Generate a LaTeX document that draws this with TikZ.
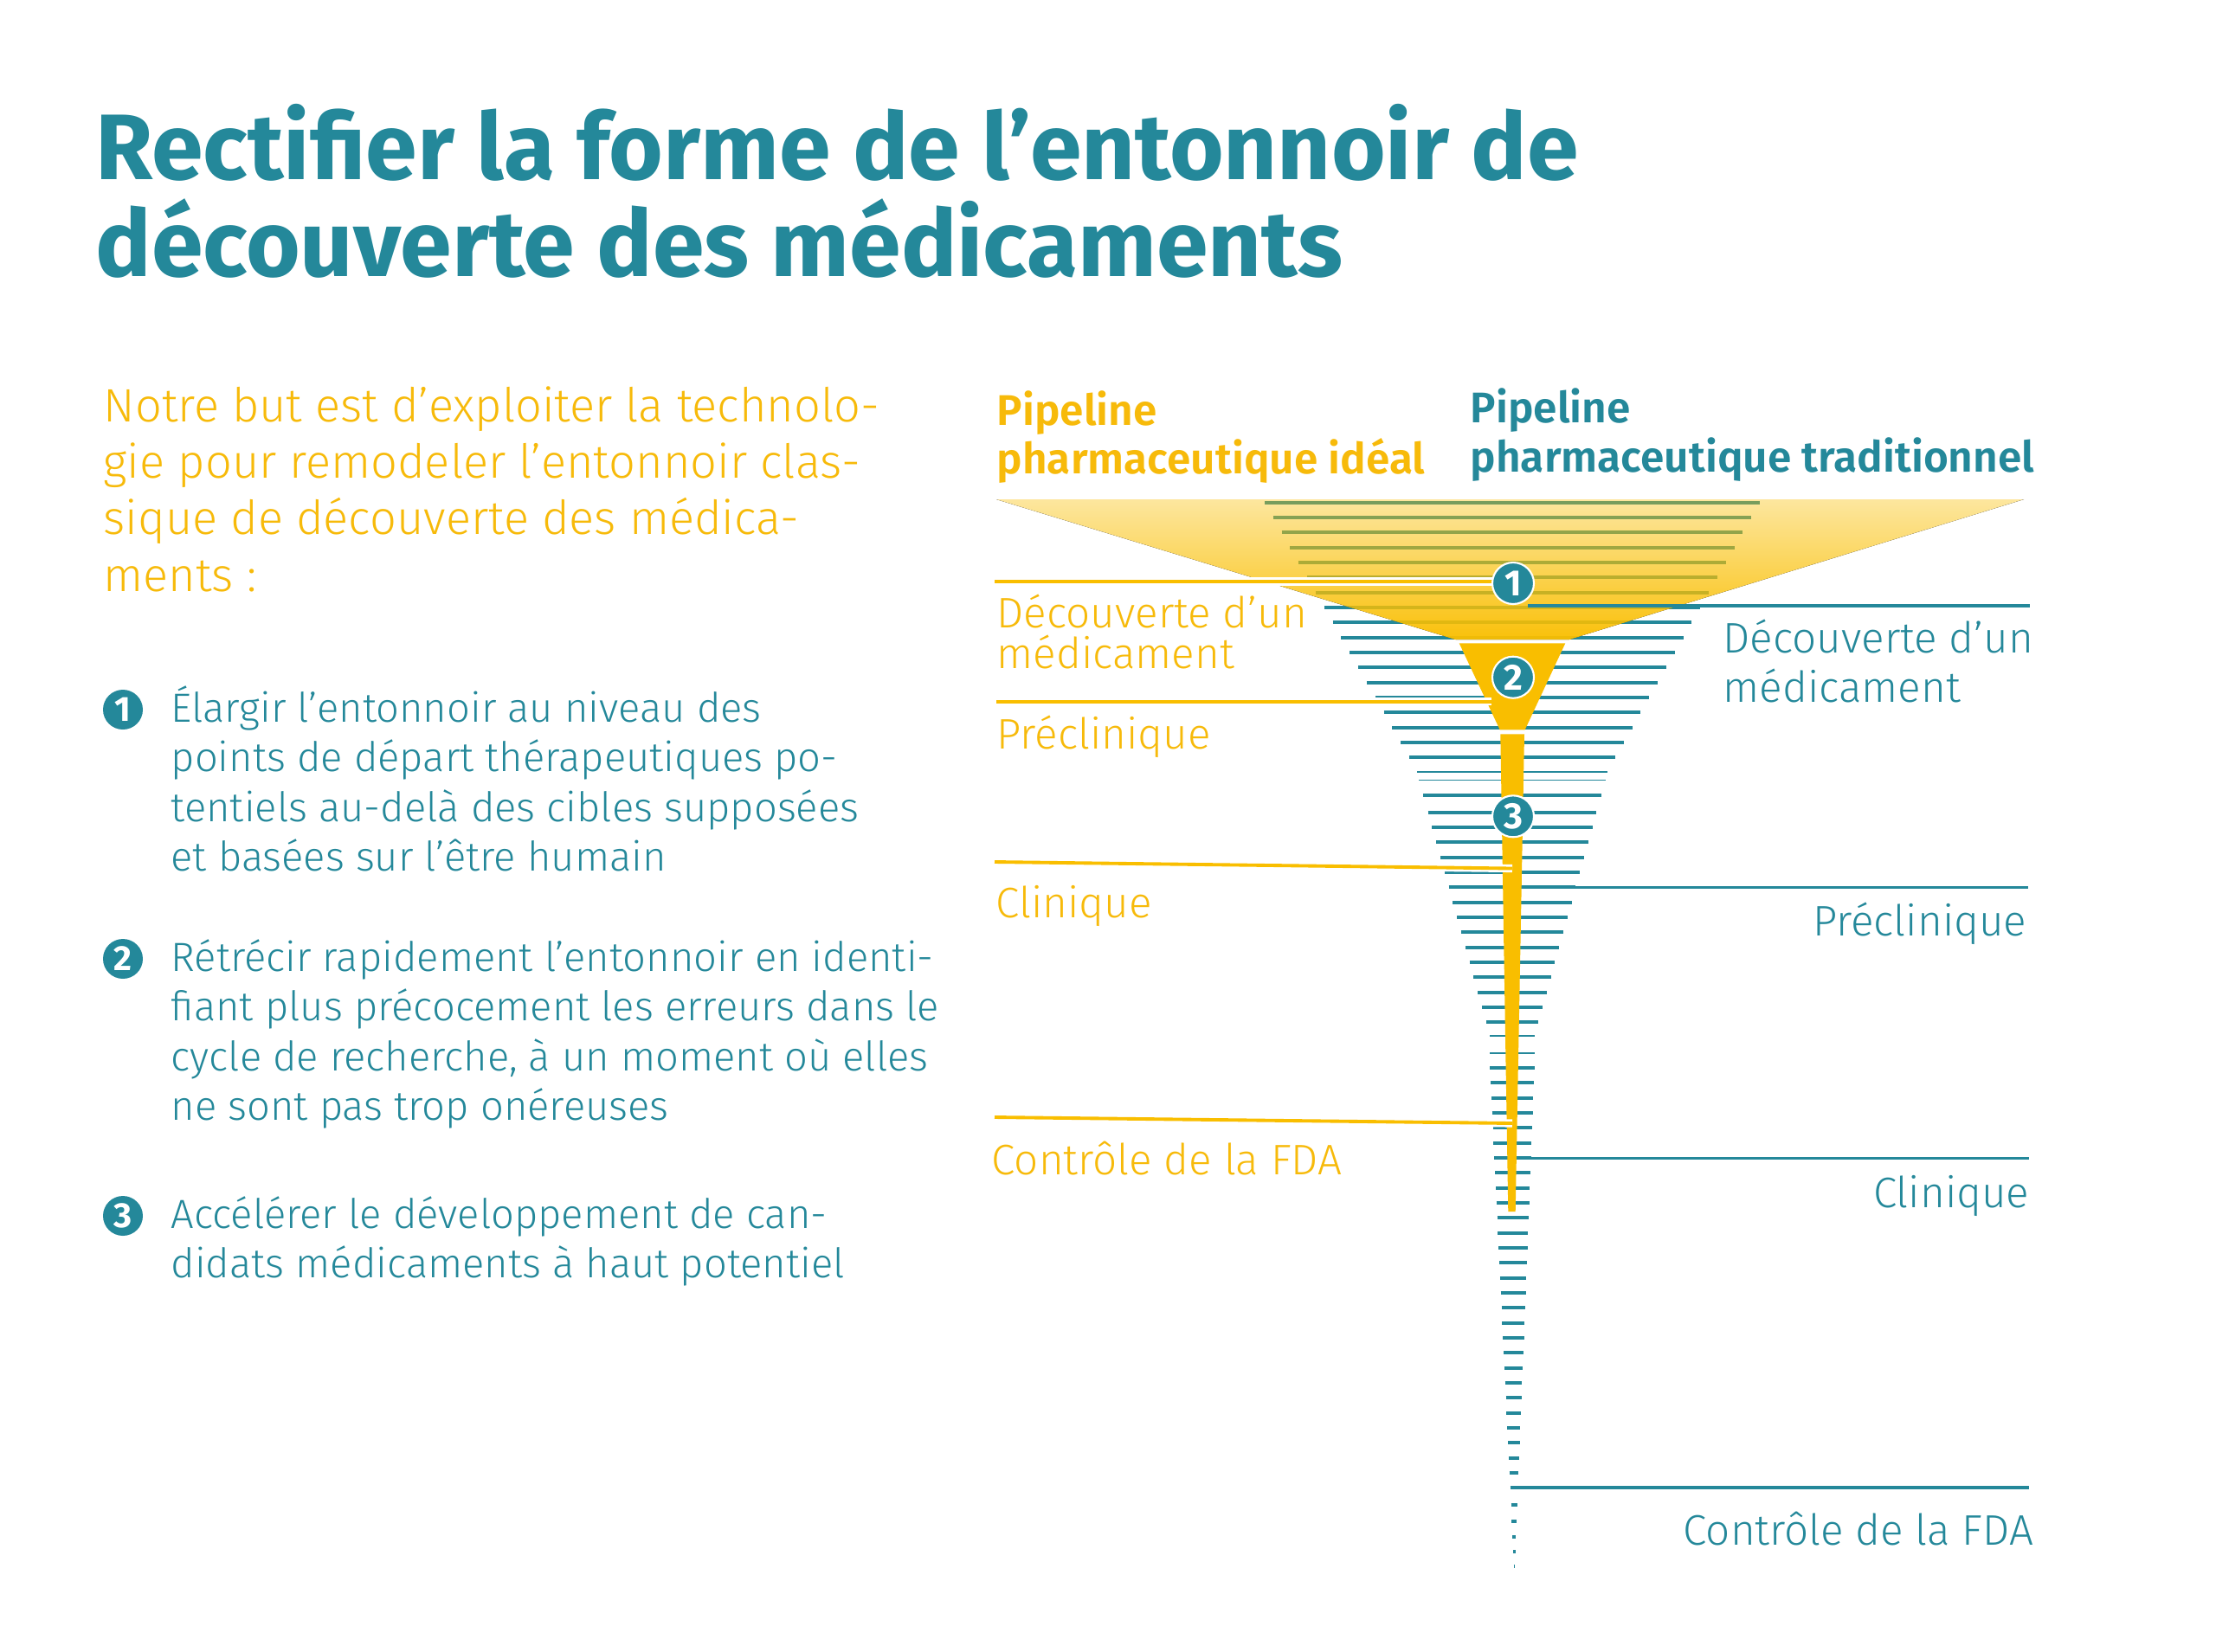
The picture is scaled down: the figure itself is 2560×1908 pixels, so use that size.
\documentclass[tikz,border=0pt]{standalone}
\usepackage{fontspec}
\setmainfont{Fira Sans}[UprightFont={* Light}, BoldFont={* Bold}]
\newfontfamily\semib{Fira Sans}[UprightFont={* SemiBold}]
\definecolor{tealc}{HTML}{24889A}
\definecolor{ycol}{HTML}{F9BE00}
\definecolor{ytext}{HTML}{F7BA0A}
\tikzset{
  tline/.style={line width=1.15pt, draw=tealc},
  thinl/.style={line width=0.45pt, draw=tealc},
  yline/.style={line width=1.1pt, draw=ycol},
  ycase/.style={line width=2.6pt, draw=white},
  rline/.style={line width=1.0pt, draw=tealc},
  title/.style={inner sep=0pt, anchor=base west, text=tealc, font=\fontsize{30.6}{36}\selectfont\bfseries},
  intro/.style={inner sep=0pt, anchor=base west, text=ytext, font=\fontsize{15.4}{19}\selectfont},
  item/.style={inner sep=0pt, anchor=base west, text=tealc, font=\fontsize{13.4}{16}\selectfont},
  ylbl/.style={inner sep=0pt, text=ytext, font=\fontsize{14.05}{16}\selectfont},
  tlbl/.style={inner sep=0pt, text=tealc, font=\fontsize{14.05}{16}\selectfont},
  hdr/.style={inner sep=0pt, anchor=base west, font=\fontsize{14.1}{16}\selectfont\semib},
  numc/.style={circle, fill=tealc, draw=white, line width=0.6pt, minimum size=4.8mm, inner sep=0pt, text=white, font=\fontsize{12}{12}\selectfont\bfseries},
  listc/.style={circle, fill=tealc, minimum size=4.6mm, inner sep=0pt, text=white, font=\fontsize{11.5}{12}\selectfont\bfseries}
}
\begin{document}
\begin{tikzpicture}[x=0.1mm, y=-0.1mm]
\fill[white] (0,0) rectangle (2560,1908);
\useasboundingbox (0,0) rectangle (2560,1908);

% ---------- title ----------
\node[title] (t1) at (110,207) {Rectifier la forme de l’entonnoir de};
\node[title] (t2) at (110,319.5) {découverte des médicaments};

% ---------- intro ----------
\node[intro] (in1) at (119,487) {Notre but est d’exploiter la technolo-};
\node[intro] (in2) at (119,552.3) {gie pour remodeler l’entonnoir clas-};
\node[intro] (in3) at (119,617.6) {sique de découverte des médica-};
\node[intro] (in4) at (119,683) {ments :};

% ---------- list ----------
\node[listc] (l1) at (142,820) {1};
\node[item] (i1a) at (197,834) {Élargir l’entonnoir au niveau des};
\node[item] (i1b) at (197,891.6) {points de départ thérapeutiques po-};
\node[item] (i1c) at (197,949.2) {tentiels au-delà des cibles supposées};
\node[item] (i1d) at (197,1006.8) {et basées sur l’être humain};
\node[listc] (l2) at (142,1108) {2};
\node[item] (i2a) at (197,1122) {Rétrécir rapidement l’entonnoir en identi-};
\node[item] (i2b) at (197,1179.6) {fiant plus précocement les erreurs dans le};
\node[item] (i2c) at (197,1237.2) {cycle de recherche, à un moment où elles};
\node[item] (i2d) at (197,1294.8) {ne sont pas trop onéreuses};
\node[listc] (l3) at (142,1405) {3};
\node[item] (i3a) at (197,1419) {Accélérer le développement de can-};
\node[item] (i3b) at (197,1476.6) {didats médicaments à haut potentiel};

% ---------- headers ----------
\node[hdr, text=ytext] (h1a) at (1151,491) {Pipeline};
\node[hdr, text=ytext] (h1b) at (1151,547) {pharmaceutique idéal};
\node[hdr, text=tealc] (h2a) at (1698,488) {Pipeline};
\node[hdr, text=tealc] (h2b) at (1698,545) {pharmaceutique traditionnel};

% ---------- traditional funnel lines ----------
\foreach \k in {0,...,17} {
  \pgfmathsetmacro\yy{580.7+17.33*\k}
  \pgfmathsetmacro\hh{286-0.567*(\yy-580.7)}
  \draw[tline] ({1747-\hh},\yy) -- ({1747+\hh},\yy);
}
\draw[thinl] (1637.3,892) -- (1856.7,892);
\draw[thinl] (1639,901.3) -- (1855,901.3);
\foreach \yy in {919.3,938.7,956.03,973.36,990.69,1008.02,1025.35,1042.68,1060.01,1077.34,1094.67,1112,1129.33,1146.66,1163.99,1181.32} {
  \pgfmathsetmacro\hh{102.8-0.277*(\yy-919.3)}
  \draw[tline] ({1747-\hh},\yy) -- ({1747+\hh},\yy);
}
\draw[thinl] (1721,1197) -- (1773,1197);
\draw[thinl] (1721,1217) -- (1773,1217);
\foreach \m in {0,...,28} {
  \pgfmathsetmacro\yy{1234+17.33*\m}
  \pgfmathsetmacro\hh{25.8-0.0438*(\yy-1234)}
  \pgfmathsetmacro\cc{1747+2.5*(\yy-1234)/576}
  \draw[tline] ({\cc-\hh},\yy) -- ({\cc+\hh},\yy);
}
\foreach \yy in {1738.7,1758.3,1775.7,1793,1810.3} {
  \pgfmathsetmacro\hh{25.8-0.0438*(\yy-1234)}
  \pgfmathsetmacro\cc{1747+2.5*(\yy-1234)/576}
  \draw[tline] ({\cc-\hh},\yy) -- ({\cc+\hh},\yy);
}

% ---------- ideal funnel ----------
\coordinate (ftl) at (1151,577);
\coordinate (ftr) at (2338,577);
\coordinate (fbr) at (1812.7,739);
\coordinate (fbl) at (1681.7,739);
\fill[top color=ycol!38!white, bottom color=ycol!96!white] (ftl) -- (ftr) -- (fbr) -- (fbl) -- cycle;
\begin{scope}
  \clip (ftl) -- (ftr) -- (fbr) -- (fbl) -- cycle;
  \foreach \k in {0,...,9} {
    \pgfmathsetmacro\yy{580.7+17.33*\k}
    \pgfmathsetmacro\hh{286-0.567*(\yy-580.7)}
    \pgfmathsetmacro\pp{100*(1-(0.38+0.58*(\yy-577)/162))}
    \draw[line width=1.15pt, draw=tealc!\pp!ycol] ({1747-\hh},\yy) -- ({1747+\hh},\yy);
  }
\end{scope}
\fill[ycol] (1685.7,743.3) -- (1808.3,743.3) -- (1761.7,843.3) -- (1732.7,843.3) -- cycle;
\fill[ycol] (1733.3,848.3) -- (1761,848.3) -- (1750.7,1400) -- (1742.3,1400) -- cycle;

% ---------- ideal pipeline stage lines (left) ----------
\coordinate (ya1) at (1149,672);   \coordinate (yb1) at (1724,672);
\coordinate (ya2) at (1151,810.7); \coordinate (yb2) at (1723,810.7);
\coordinate (ya3) at (1149,996);   \coordinate (yb3) at (1747,1003.5);
\coordinate (ya4) at (1149,1291);  \coordinate (yb4) at (1747,1298);
\foreach \i in {1,2,3,4} {
  \draw[ycase] (ya\i) -- (yb\i);
  \draw[yline] (ya\i) -- (yb\i);
}
\node[ylbl, anchor=base west] (yl1a) at (1151,725) {Découverte d’un};
\node[ylbl, anchor=base west] (yl1b) at (1151,772.3) {médicament};
\node[ylbl, anchor=base west] (yl2) at (1151,865.7) {Préclinique};
\node[ylbl, anchor=base west] (yl3) at (1150,1060.7) {Clinique};
\node[ylbl, anchor=base west] (yl4) at (1145,1357.3) {Contrôle de la FDA};

% ---------- traditional pipeline stage lines (right) ----------
\coordinate (ta1) at (1765,700);    \coordinate (tb1) at (2345,700);
\coordinate (ta2) at (1819,1025.3); \coordinate (tb2) at (2343,1025.3);
\coordinate (ta3) at (1763,1338.3); \coordinate (tb3) at (2344,1338.3);
\coordinate (ta4) at (1750,1719);   \coordinate (tb4) at (2344,1719);
\foreach \i in {1,2,3,4} {
  \draw[rline] (ta\i) -- (tb\i);
}
\node[tlbl, anchor=base west] (tl1a) at (1990,754) {Découverte d’un};
\node[tlbl, anchor=base west] (tl1b) at (1990,811) {médicament};
\node[tlbl, anchor=base east] (tl2) at (2342,1081) {Préclinique};
\node[tlbl, anchor=base east] (tl3) at (2345,1395) {Clinique};
\node[tlbl, anchor=base east] (tl4) at (2350,1785) {Contrôle de la FDA};

% ---------- step markers ----------
\node[numc] (n1) at (1748,674) {1};
\node[numc] (n2) at (1748,782.7) {2};
\node[numc] (n3) at (1748,943.3) {3};
\end{tikzpicture}
\end{document}
